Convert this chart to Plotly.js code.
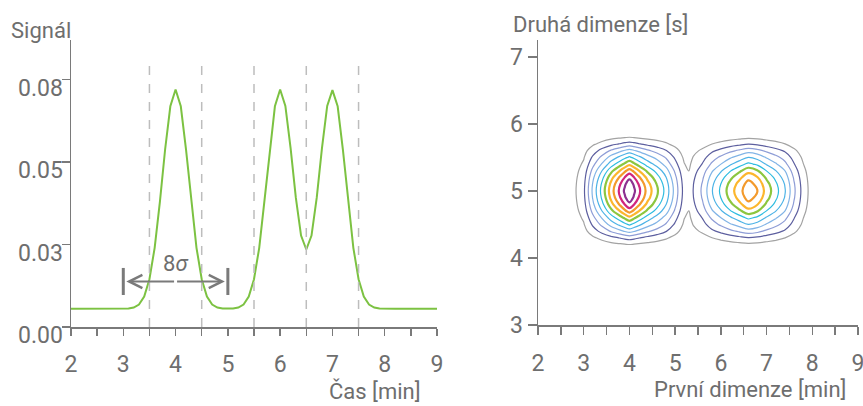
<!DOCTYPE html>
<html>
<head>
<meta charset="utf-8">
<script src="https://cdn.plot.ly/plotly-3.0.1.min.js"></script>
<style>html,body{margin:0;padding:0;background:#fff;}#chart{width:863px;height:406px;}</style>
</head>
<body>
<div id="chart"></div>
<script>
// ---- Left panel: 1D chromatogram ----
const time = [2.0,2.1,2.2,2.3,2.4,2.5,2.6,2.7,2.8,2.9,3.0,3.1,3.2,3.3,3.4,3.5,3.6,3.7,3.8,3.9,
  4.0,4.1,4.2,4.3,4.4,4.5,4.6,4.7,4.8,4.9,5.0,5.1,5.2,5.3,5.4,5.5,5.6,5.7,5.8,5.9,
  6.0,6.1,6.2,6.3,6.4,6.5,6.6,6.7,6.8,6.9,7.0,7.1,7.2,7.3,7.4,7.5,7.6,7.7,7.8,7.9,
  8.0,8.1,8.2,8.3,8.4,8.5,8.6,8.7,8.8,8.9,9.0];
const signal = [0.0055,0.0055,0.0055,0.0055,0.0055,0.0055,0.0055,0.0055,0.0055,0.0055,0.0055,
  0.0056,0.0059,0.0068,0.0092,0.0145,0.0240,0.0379,0.0538,0.0669,
  0.0720,0.0669,0.0538,0.0379,0.0240,0.0145,0.0092,0.0068,0.0059,0.0056,
  0.0055,0.0056,0.0059,0.0068,0.0092,0.0145,0.0240,0.0379,0.0538,0.0669,
  0.0720,0.0670,0.0542,0.0392,0.0277,0.0235,0.0277,0.0392,0.0542,0.0670,
  0.0718,0.0669,0.0538,0.0379,0.0240,0.0145,0.0092,0.0068,0.0059,0.0056,
  0.0055,0.0055,0.0055,0.0055,0.0055,0.0055,0.0055,0.0055,0.0055,0.0055,0.0055];
const signalTickVals = [0, 0.025, 0.05, 0.075];
const signalTickText = ["0.00", "0.03", "0.05", "0.08"];
const dashedLineTimes = [3.5, 4.5, 5.5, 6.5, 7.5];
const dashedLineTop = 0.0808;
const sigmaSpan = [3, 5];       // 8σ marker, from / to
const sigmaLevel = 0.0138;

// ---- Right panel: 2D contour ----
const firstDim = [2.4,2.6,2.8,3.0,3.2,3.4,3.6,3.8,3.9,4.0,4.1,4.2,4.4,4.6,4.8,5.0,5.2,5.3,5.4,5.6,5.8,6.0,
  6.2,6.4,6.6,6.8,7.0,7.2,7.4,7.6,7.8,8.0,8.2,8.4];
const firstDimProfile = [0.1,0.35,0.85,1.79,4.22,6.36,8.53,10.3,11.2,12.0,11.2,10.3,8.6,7.19,5.64,3.6,1.6,1.25,
  2.05,3.2,4.9,6.2,7.5,8.6,9.7,9.0,7.6,6.4,5.1,3.2,1.6,0.5,0.15,0.05];
const secondDim = [4.0,4.1,4.2,4.3,4.4,4.5,4.6,4.7,4.8,4.9,5.0,5.1,5.2,5.3,5.4,5.5,5.6,5.7,5.8,5.9,6.0];
const secondDimProfile = [0.005,0.025,0.083,0.2,0.367,0.514,0.643,0.786,0.896,0.97,1,0.97,0.896,0.786,
  0.643,0.514,0.367,0.2,0.083,0.025,0.005];
const contourLevels = [1,2,3,4,5,6,7,8,9,10,11];
const contourColors = ['#a3a3a3','#5d5f9f','#8e9dd6','#82b4e6','#4db3e6','#2ebce0',
  '#8cc63f','#fcb62d','#f39a2c','#d1267d','#8d3290'];

const z = secondDimProfile.map(h => firstDimProfile.map(g => g * h));

function contourTrace(fromIdx, toIdx, width) {
  const lv = contourLevels.slice(fromIdx, toIdx + 1);
  const cols = contourColors.slice(fromIdx, toIdx + 1);
  const n = cols.length - 1;
  return {
    type: 'contour', x: firstDim, y: secondDim, z: z,
    xaxis: 'x2', yaxis: 'y2',
    autocontour: false,
    contours: {start: lv[0], end: lv[lv.length - 1], size: 1, coloring: 'lines'},
    colorscale: cols.map((c, i) => [n ? i / n : 0, c]),
    showscale: false,
    line: {width: width, smoothing: 1},
    hoverinfo: 'skip'
  };
}

const font = 'Roboto, "Open Sans", sans-serif';
const grey = '#6e6e6e';
const axisCol = '#7a7a7a';

const traces = [
  {type: 'scatter', mode: 'lines', x: time, y: signal,
   line: {color: '#7cc242', width: 2}, hoverinfo: 'skip'},
  contourTrace(0, 5, 1.2),
  contourTrace(6, 10, 2.2)
];

const shapes = dashedLineTimes.map(t => ({
  type: 'line', xref: 'x', yref: 'y', x0: t, x1: t, y0: 0, y1: dashedLineTop,
  line: {color: '#bdbdbd', width: 1.5, dash: 'dash'}
}));
sigmaSpan.forEach(t => shapes.push({
  type: 'line', xref: 'x', yref: 'y', x0: t, x1: t, y0: sigmaLevel - 0.0041, y1: sigmaLevel + 0.0041,
  line: {color: axisCol, width: 3}
}));

const mid = (sigmaSpan[0] + sigmaSpan[1]) / 2;
const annotations = [
  {xref: 'x', yref: 'y', x: sigmaSpan[0], y: sigmaLevel, ax: mid, ay: sigmaLevel,
   axref: 'x', ayref: 'y', showarrow: true, arrowhead: 5, arrowsize: 1.3, arrowwidth: 2,
   arrowcolor: axisCol, text: '', standoff: 3},
  {xref: 'x', yref: 'y', x: sigmaSpan[1], y: sigmaLevel, ax: mid, ay: sigmaLevel,
   axref: 'x', ayref: 'y', showarrow: true, arrowhead: 5, arrowsize: 1.3, arrowwidth: 2,
   arrowcolor: axisCol, text: '', standoff: 3},
  {xref: 'x', yref: 'y', x: mid, y: 0.0191, text: '8<i>σ</i>', showarrow: false,
   font: {size: 22, color: grey, family: font}},
  {xref: 'paper', yref: 'paper', x: 73 / 863, y: (406 - 31) / 406, xanchor: 'right', yanchor: 'middle',
   text: 'Signál', showarrow: false, font: {size: 22, color: grey, family: font}},
  {xref: 'paper', yref: 'paper', x: 423 / 863, y: (406 - 391) / 406, xanchor: 'right', yanchor: 'middle',
   text: 'Čas [min]', showarrow: false, font: {size: 22, color: grey, family: font}},
  {xref: 'paper', yref: 'paper', x: 511 / 863, y: (406 - 24) / 406, xanchor: 'left', yanchor: 'middle',
   text: 'Druhá dimenze [s]', showarrow: false, font: {size: 22, color: grey, family: font}},
  {xref: 'paper', yref: 'paper', x: 848 / 863, y: (406 - 389) / 406, xanchor: 'right', yanchor: 'middle',
   text: 'První dimenze [min]', showarrow: false, font: {size: 22, color: grey, family: font}}
];
// left y tick labels sit just below their tick marks
signalTickVals.forEach((v, i) => annotations.push({
  xref: 'paper', yref: 'y', x: 65 / 863, y: v, xanchor: 'right', yanchor: 'middle', yshift: -8.5,
  text: signalTickText[i], showarrow: false, font: {size: 23, color: grey, family: font}
}));

const baseAxis = {
  showgrid: false, zeroline: false, showline: true, linecolor: axisCol, linewidth: 1.5,
  ticks: 'outside', tickcolor: axisCol, tickwidth: 1.5,
  tickfont: {size: 23, color: grey, family: font}, fixedrange: true
};

const layout = {
  width: 863, height: 406,
  margin: {l: 0, r: 0, t: 0, b: 0},
  paper_bgcolor: '#fff', plot_bgcolor: '#fff',
  showlegend: false,
  font: {family: font, color: grey},
  xaxis: Object.assign({}, baseAxis, {
    domain: [71 / 863, 437 / 863], range: [2, 9], tick0: 2, dtick: 1, ticklen: 7,
    minor: {dtick: 0.5, ticks: 'outside', ticklen: 7, tickcolor: axisCol, tickwidth: 1.5},
    ticklabelstandoff: 9, ticklabeloverflow: 'allow', anchor: 'y'
  }),
  yaxis: Object.assign({}, baseAxis, {
    domain: [(406 - 327) / 406, (406 - 40) / 406], range: [0, 0.087],
    tickvals: signalTickVals, ticklen: 8, showticklabels: false, anchor: 'x'
  }),
  xaxis2: Object.assign({}, baseAxis, {
    domain: [538 / 863, 858 / 863], range: [2, 9], tick0: 2, dtick: 1, ticklen: 8,
    minor: {dtick: 0.5, ticks: 'outside', ticklen: 8, tickcolor: axisCol, tickwidth: 1.5},
    ticklabelstandoff: 9, ticklabeloverflow: 'allow', anchor: 'y2'
  }),
  yaxis2: Object.assign({}, baseAxis, {
    domain: [(406 - 325) / 406, (406 - 40) / 406], range: [3, 7.25], tick0: 3, dtick: 1,
    ticklen: 9, anchor: 'x2'
  }),
  shapes: shapes,
  annotations: annotations
};

Plotly.newPlot('chart', traces, layout, {displayModeBar: false, staticPlot: true});
</script>
</body>
</html>
